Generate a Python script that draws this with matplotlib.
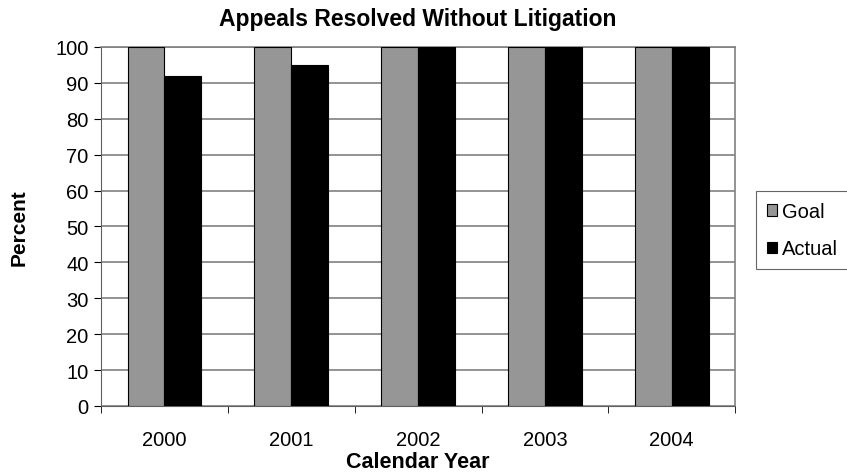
import numpy as np
import matplotlib
matplotlib.use("Agg")
import matplotlib.pyplot as plt

years = ["2000", "2001", "2002", "2003", "2004"]
goal = [100, 100, 100, 100, 100]
actual = [92, 95, 100, 100, 100]

plt.rcParams['font.family'] = ['Liberation Sans', 'DejaVu Sans']

fig = plt.figure(figsize=(8.47, 4.77), dpi=100)
ax = fig.add_axes([0.1192, 0.1468, 0.7488, 0.7526])

x = np.arange(len(years))
w = 0.29
ax.bar(x - w / 2, goal, w, color="#969696", edgecolor="black", linewidth=0.8, label="Goal", zorder=3)
ax.bar(x + w / 2, actual, w, color="black", edgecolor="black", linewidth=0.8, label="Actual", zorder=3)

ax.set_xlim(-0.5, len(years) - 0.5)
ax.set_ylim(0, 100)
ax.set_yticks(range(0, 101, 10))
ax.set_xticks(x)
ax.set_xticklabels(years, fontsize=14.5)
ax.set_xticks(np.arange(-0.5, len(years), 1.0), minor=True)
ax.tick_params(axis="x", which="major", length=0, pad=17)
ax.tick_params(axis="x", which="minor", length=5, direction="out")
ax.tick_params(axis="y", labelsize=14.5, length=5, direction="out", pad=4)
ax.yaxis.grid(True, color="#808080", linewidth=1.2, zorder=0)

for s in ["top", "right"]:
    ax.spines[s].set_color("#808080")
    ax.spines[s].set_linewidth(1.2)
for s in ["left", "bottom"]:
    ax.spines[s].set_color("#606060")

ax.set_title("Appeals Resolved Without Litigation", fontsize=16.5, fontweight="bold", pad=16)
ax.set_xlabel("Calendar Year", fontsize=15.5, fontweight="bold", labelpad=2)
ax.set_ylabel("Percent", fontsize=15, fontweight="bold", labelpad=19)

leg = fig.legend(loc="center left", bbox_to_anchor=(0.8926, 0.515), fontsize=14.5,
                 frameon=True, fancybox=False, edgecolor="black", handlelength=0.5,
                 handleheight=0.5, handletextpad=0.25, labelspacing=0.9, borderpad=0.55,
                 borderaxespad=0)
leg.get_frame().set_linewidth(0.8)
leg.get_frame().set_edgecolor("#404040")

fig.savefig("out.png", dpi=100)
